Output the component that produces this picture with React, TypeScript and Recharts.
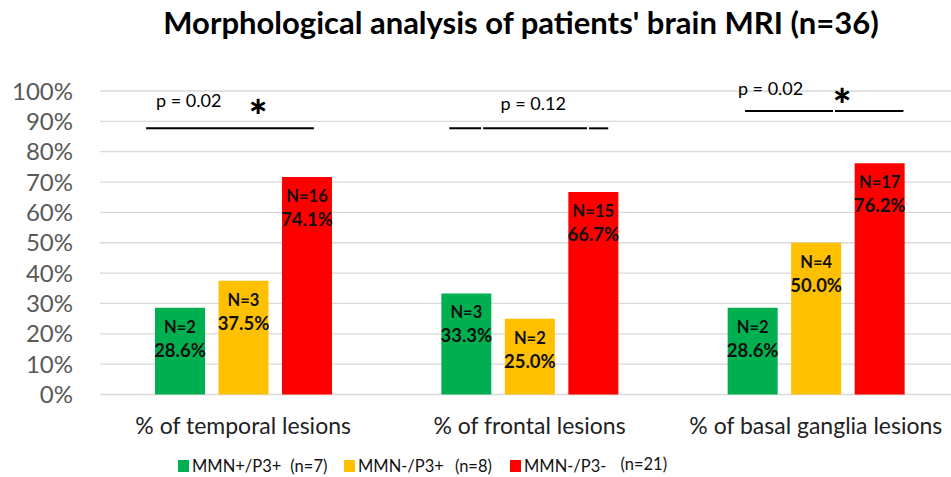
import React from "react";
import {
  BarChart,
  Bar,
  XAxis,
  YAxis,
  CartesianGrid,
  Legend,
  LabelList,
  ReferenceLine,
  ReferenceDot,
} from "recharts";

// categories and series
const categories = ["% of temporal lesions", "% of frontal lesions", "% of basal ganglia lesions"];
const seriesNames = ["MMN+/P3+", "MMN-/P3+", "MMN-/P3-"];
const seriesCounts = ["(n=7)", "(n=8)", "(n=21)"];
const colors = ["#00b050", "#ffc000", "#ff0000"];

// bar heights (%)
const posValues = [28.6, 33.3, 28.6];
const midValues = [37.5, 25.0, 50.0];
const negValues = [71.7, 66.7, 76.2];

// label texts printed on the bars
const posLabels = [["N=2", "28.6%"], ["N=3", "33.3%"], ["N=2", "28.6%"]];
const midLabels = [["N=3", "37.5%"], ["N=2", "25.0%"], ["N=4", "50.0%"]];
const negLabels = [["N=16", "74.1%"], ["N=15", "66.7%"], ["N=17", "76.2%"]];

const yTicks = [0, 10, 20, 30, 40, 50, 60, 70, 80, 90, 100];

// significance annotations, x in category units (0..3), y in %
const sigLines = [
  { x1: 0.161, x2: 0.747, y: 87.7 },
  { x1: 1.22, x2: 1.331, y: 87.7 },
  { x1: 1.338, x2: 1.701, y: 87.7 },
  { x1: 1.708, x2: 1.775, y: 87.7 },
  { x1: 2.253, x2: 2.56, y: 93.4 },
  { x1: 2.567, x2: 2.806, y: 93.4 },
];
const pTexts = [
  { x: 0.31, y: 97.0, text: "p = 0.02" },
  { x: 1.513, y: 95.9, text: "p = 0.12" },
  { x: 2.342, y: 100.9, text: "p = 0.02" },
];
const stars = [
  { x: 0.552, y: 94.3 },
  { x: 2.592, y: 98.1 },
];

const keys = ["pos", "mid", "neg"];
const labelLists = [posLabels, midLabels, negLabels];

const data = categories.map((cat, i) => ({
  cat,
  slot: i + 0.5,
  pos: posValues[i],
  mid: midValues[i],
  neg: negValues[i],
}));

const FONT = "Lato, 'Open Sans', sans-serif";

const makeLabel = (s: number) => (props: any) => {
  const { x, y, width, index } = props;
  const lines = labelLists[s][index];
  const cx = Number(x) + Number(width) / 2;
  return (
    <g>
      <text x={cx} y={Number(y) + 19} textAnchor="middle" dominantBaseline="central"
        fontFamily={FONT} fontWeight={700} fontSize={16.5} fill="#111">
        {lines[0]}
      </text>
      <text x={cx} y={Number(y) + 42} textAnchor="middle" dominantBaseline="central"
        fontFamily={FONT} fontWeight={700} fontSize={18.5} fill="#111">
        {lines[1]}
      </text>
    </g>
  );
};

// gap between series name and its count, as in the original legend
const countGaps = [9, 11, 14];

const renderLegend = () => (
  <div style={{ display: "flex", fontFamily: FONT, fontSize: 16.5, color: "#111", lineHeight: "24px" }}>
    {seriesNames.map((name, i) => (
      <div key={name} style={{ display: "flex", alignItems: "center", width: 166, flexShrink: 0 }}>
        <div style={{ width: 11, height: 12, background: colors[i], marginRight: 3, flexShrink: 0 }} />
        <span style={{ whiteSpace: "pre" }}>{name}</span>
        <span style={{
          whiteSpace: "pre",
          marginLeft: countGaps[i],
          position: "relative",
          top: i === 2 ? -2 : 0,
        }}>
          {seriesCounts[i]}
        </span>
      </div>
    ))}
  </div>
);

export default function App() {
  return (
    <div style={{ width: 951, height: 477, overflow: "hidden", position: "relative", background: "#fff" }}>
      <style>{"html,body{margin:0;padding:0;overflow:hidden;}"}</style>
      <div style={{
        position: "absolute", left: 0, width: 1042, top: 3, textAlign: "center",
        fontFamily: FONT, fontWeight: 700, fontSize: 31, color: "#000", zIndex: 2,
        whiteSpace: "nowrap",
      }}>
        Morphological analysis of patients' brain MRI (n=36)
      </div>
      <BarChart
        width={960}
        height={477}
        data={data}
        margin={{ top: 91, right: 1, bottom: 52.5, left: 0 }}
        barSize={50}
        barGap={13.5}
      >
        <CartesianGrid vertical={false} stroke="#d9d9d9" strokeWidth={1.3} />
        <XAxis
          dataKey="cat"
          height={30}
          axisLine={false}
          tickLine={false}
          tickSize={0}
          tickMargin={23}
          tick={{ fontFamily: FONT, fontSize: 23, fill: "#222" }}
          interval={0}
        />
        <XAxis xAxisId="num" dataKey="slot" type="number" domain={[0, 3]} hide allowDataOverflow />
        <YAxis
          width={100}
          domain={[0, 100]}
          ticks={yTicks}
          axisLine={false}
          tickLine={false}
          tickSize={0}
          tickMargin={27}
          tickFormatter={(v) => `${v}%`}
          tick={{ fontFamily: FONT, fontSize: 24, fill: "#595959" }}
          interval={0}
        />
        {keys.map((k, s) => (
          <Bar key={k} dataKey={k} name={seriesNames[s]} fill={colors[s]} isAnimationActive={false}>
            <LabelList dataKey={k} content={makeLabel(s)} />
          </Bar>
        ))}
        {sigLines.map((l, i) => (
          <ReferenceLine
            key={`l${i}`}
            xAxisId="num"
            segment={[{ x: l.x1, y: l.y }, { x: l.x2, y: l.y }]}
            stroke="#000"
            strokeWidth={2}
            ifOverflow="visible"
          />
        ))}
        {pTexts.map((p, i) => (
          <ReferenceDot
            key={`p${i}`}
            xAxisId="num"
            x={p.x}
            y={p.y}
            r={0}
            ifOverflow="visible"
            shape={(d: any) => (
              <text x={d.cx} y={d.cy} textAnchor="middle" dominantBaseline="central"
                fontFamily={FONT} fontSize={18} fill="#000">
                {p.text}
              </text>
            )}
          />
        ))}
        {stars.map((s, i) => (
          <ReferenceDot
            key={`s${i}`}
            xAxisId="num"
            x={s.x}
            y={s.y}
            r={0}
            ifOverflow="visible"
            shape={(d: any) => (
              <text x={d.cx} y={d.cy + 24} textAnchor="middle"
                fontFamily={FONT} fontWeight={900} fontSize={44} fill="#000">
                *
              </text>
            )}
          />
        ))}
        <Legend
          layout="horizontal"
          verticalAlign="middle"
          align="center"
          content={renderLegend}
          wrapperStyle={{ top: 454, left: 178, width: 600, height: 24 }}
        />
      </BarChart>
    </div>
  );
}
